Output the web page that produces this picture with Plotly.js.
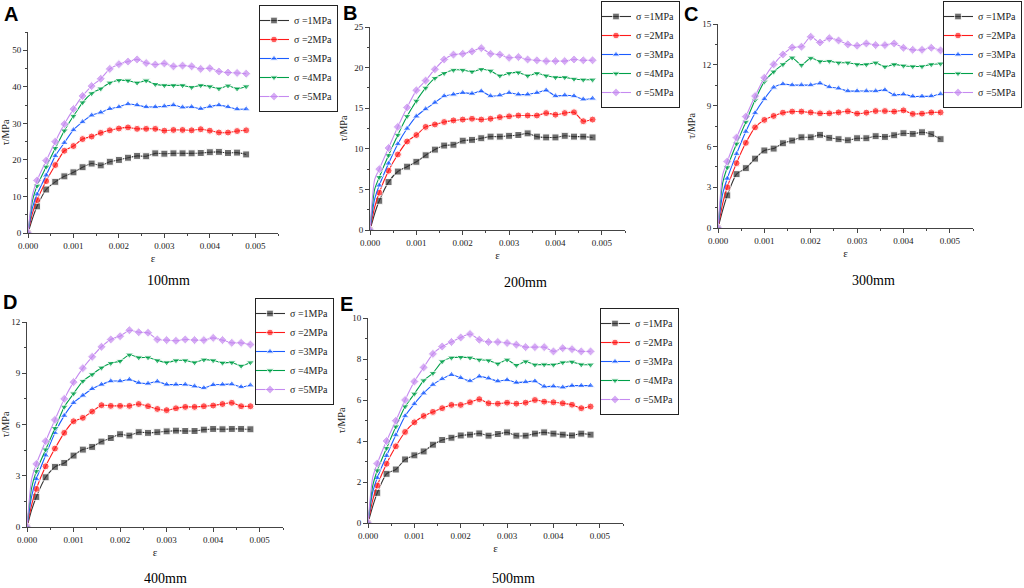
<!DOCTYPE html>
<html><head><meta charset="utf-8">
<script src="https://cdn.plot.ly/plotly-3.0.1.min.js"></script>
<style>html,body{margin:0;padding:0;background:#fff;}#chart{width:1024px;height:588px;}</style>
</head><body><div id="chart"></div>
<script>
// strain grid (ε)
const strain = [0, 0.0001, 0.0002, 0.0004, 0.0006, 0.0008, 0.0010, 0.0012, 0.0014, 0.0016, 0.0018, 0.0020,
  0.0022, 0.0024, 0.0026, 0.0028, 0.0030, 0.0032, 0.0034, 0.0036, 0.0038, 0.0040, 0.0042, 0.0044, 0.0046, 0.0048];
const seriesNames = ["σ =1MPa", "σ =2MPa", "σ =3MPa", "σ =4MPa", "σ =5MPa"];
const panelLetters = ["A", "B", "C", "D", "E"];
const panelCaptions = ["100mm", "200mm", "300mm", "400mm", "500mm"];
const yMax = [55, 25, 15, 12, 10];
const yStep = [10, 5, 3, 3, 2];

// τ (MPa), 100 mm
const tauA1 = [0, 4.0, 7.3, 11.9, 14.0, 15.5, 16.6, 18.0, 19.0, 18.5, 19.5, 20.0, 20.6, 21.1, 21.0, 21.8, 21.7, 21.8, 21.8, 21.8, 21.9, 22.1, 22.2, 21.9, 22.0, 21.5];
const tauA2 = [0, 5.5, 9.0, 14.2, 18.6, 22.5, 23.8, 25.7, 26.4, 27.4, 28.1, 28.6, 28.9, 28.5, 28.5, 28.5, 28.0, 28.2, 28.2, 28.1, 28.4, 28.0, 27.5, 27.5, 27.9, 28.1];
const tauA3 = [0, 7.0, 10.6, 15.8, 21.1, 24.7, 28.2, 30.4, 32.2, 33.0, 34.0, 34.5, 35.3, 35.0, 34.5, 34.5, 34.7, 35.0, 34.4, 34.5, 34.0, 34.6, 35.0, 34.5, 33.9, 33.9];
const tauA4 = [0, 9.0, 12.9, 18.1, 23.2, 28.0, 32.0, 35.7, 38.2, 39.5, 41.1, 41.8, 41.7, 41.1, 41.7, 40.7, 40.4, 40.4, 40.4, 39.9, 40.4, 40.1, 39.5, 40.3, 39.5, 40.1];
const tauA5 = [0, 10.5, 14.4, 19.8, 25.0, 29.8, 33.9, 37.5, 40.2, 42.2, 44.9, 46.2, 46.9, 47.5, 46.5, 46.1, 46.4, 45.6, 45.8, 45.6, 44.9, 45.1, 44.2, 43.9, 43.8, 43.6];
// 200 mm
const tauB1 = [0, 2.0, 3.6, 5.9, 7.2, 7.8, 8.4, 9.2, 9.9, 10.4, 10.5, 11.0, 11.1, 11.3, 11.5, 11.5, 11.6, 11.7, 11.9, 11.5, 11.4, 11.4, 11.6, 11.5, 11.5, 11.4];
const tauB2 = [0, 2.8, 4.6, 7.3, 9.3, 10.9, 11.7, 12.7, 13.0, 13.3, 13.5, 13.6, 13.7, 13.6, 13.7, 13.9, 14.0, 14.1, 14.1, 14.1, 14.4, 14.2, 14.4, 14.5, 13.4, 13.6];
const tauB3 = [0, 3.8, 5.5, 8.2, 10.6, 12.5, 14.0, 14.9, 15.7, 16.5, 16.7, 16.9, 16.8, 17.1, 16.5, 16.6, 16.9, 16.7, 16.7, 16.9, 17.2, 16.5, 16.6, 16.5, 16.1, 16.2];
const tauB4 = [0, 5.0, 6.5, 9.2, 11.7, 14.0, 15.9, 17.5, 18.7, 19.3, 19.7, 19.7, 19.5, 19.8, 19.6, 19.0, 19.3, 19.4, 19.0, 19.3, 19.0, 18.8, 18.8, 18.6, 18.5, 18.5];
const tauB5 = [0, 6.2, 7.5, 10.1, 12.7, 15.1, 17.2, 18.4, 19.8, 21.0, 21.6, 21.7, 22.0, 22.4, 21.7, 21.6, 21.2, 21.3, 21.0, 20.9, 20.8, 20.8, 20.8, 21.0, 20.9, 20.9];
// 300 mm
const tauC1 = [0, 1.3, 2.4, 3.96, 4.4, 5.1, 5.7, 5.84, 6.23, 6.43, 6.67, 6.67, 6.85, 6.63, 6.53, 6.45, 6.6, 6.6, 6.75, 6.7, 6.82, 6.97, 6.92, 7.04, 6.9, 6.53];
const tauC2 = [0, 1.8, 3.0, 4.77, 6.26, 7.4, 7.95, 8.24, 8.48, 8.56, 8.56, 8.5, 8.43, 8.43, 8.5, 8.58, 8.41, 8.48, 8.6, 8.6, 8.56, 8.65, 8.39, 8.41, 8.5, 8.5];
const tauC3 = [0, 2.5, 3.64, 5.45, 7.09, 8.46, 9.49, 10.34, 10.59, 10.51, 10.51, 10.51, 10.64, 10.37, 10.27, 10.07, 10.07, 10.07, 10.07, 10.15, 9.78, 9.83, 9.68, 9.68, 9.7, 9.85];
const tauC4 = [0, 3.3, 4.45, 6.19, 7.8, 9.41, 10.76, 11.49, 12.03, 12.52, 11.98, 12.5, 12.25, 12.27, 12.15, 12.15, 12.03, 12.03, 12.15, 11.86, 12.03, 11.93, 11.88, 11.88, 12.03, 12.08];
const tauC5 = [0, 3.9, 4.89, 6.65, 8.19, 9.7, 11.05, 12.03, 12.76, 13.28, 13.33, 14.06, 13.64, 13.96, 13.79, 13.5, 13.4, 13.57, 13.45, 13.45, 13.57, 13.25, 13.1, 13.1, 13.25, 13.06];
// 400 mm
const tauD1 = [0, 1.0, 1.76, 2.91, 3.52, 3.75, 4.18, 4.53, 4.69, 5.0, 5.21, 5.43, 5.35, 5.55, 5.51, 5.55, 5.6, 5.64, 5.62, 5.62, 5.7, 5.74, 5.72, 5.74, 5.74, 5.72];
const tauD2 = [0, 1.3, 2.23, 3.55, 4.59, 5.51, 6.19, 6.39, 6.76, 7.13, 7.09, 7.09, 7.09, 7.2, 7.07, 6.91, 6.84, 6.95, 7.03, 7.03, 7.07, 7.11, 7.2, 7.27, 7.07, 7.07];
const tauD3 = [0, 1.8, 2.81, 4.2, 5.51, 6.52, 7.27, 7.7, 8.09, 8.34, 8.54, 8.54, 8.63, 8.44, 8.4, 8.52, 8.34, 8.34, 8.34, 8.24, 8.14, 8.32, 8.34, 8.36, 8.2, 8.3];
const tauD4 = [0, 2.3, 3.26, 4.53, 5.78, 7.03, 7.81, 8.54, 8.93, 9.32, 9.59, 9.71, 10.08, 9.92, 9.92, 9.75, 9.63, 9.75, 9.75, 9.63, 9.79, 9.75, 9.61, 9.63, 9.43, 9.63];
const tauD5 = [0, 2.8, 3.69, 5.02, 6.27, 7.5, 8.48, 9.3, 9.96, 10.55, 10.98, 11.17, 11.52, 11.4, 11.37, 10.98, 10.94, 10.9, 10.98, 10.94, 10.94, 11.07, 10.94, 10.78, 10.78, 10.68];
// 500 mm
const tauE1 = [0, 0.8, 1.47, 2.4, 2.61, 3.1, 3.3, 3.49, 3.82, 4.05, 4.16, 4.27, 4.31, 4.37, 4.26, 4.34, 4.42, 4.26, 4.26, 4.36, 4.42, 4.36, 4.31, 4.27, 4.36, 4.31];
const tauE2 = [0, 1.1, 1.83, 2.89, 3.74, 4.44, 4.91, 5.22, 5.42, 5.6, 5.76, 5.76, 5.89, 6.04, 5.84, 5.82, 5.87, 5.82, 5.87, 6.0, 5.92, 5.89, 5.84, 5.77, 5.6, 5.68];
const tauE3 = [0, 1.5, 2.2, 3.28, 4.29, 5.22, 5.81, 6.33, 6.75, 7.03, 7.23, 7.08, 6.93, 7.15, 7.06, 6.92, 6.98, 6.85, 6.88, 6.92, 6.66, 6.67, 6.62, 6.7, 6.7, 6.7];
const tauE4 = [0, 1.8, 2.56, 3.65, 4.7, 5.68, 6.3, 6.95, 7.31, 7.88, 8.06, 8.09, 8.06, 7.96, 7.93, 7.77, 7.96, 7.7, 7.88, 7.72, 7.73, 7.72, 7.83, 7.86, 7.73, 7.72];
const tauE5 = [0, 2.2, 2.9, 4.0, 4.99, 6.0, 6.9, 7.59, 8.25, 8.61, 8.83, 9.05, 9.22, 8.94, 8.83, 8.83, 8.78, 8.7, 8.58, 8.58, 8.58, 8.37, 8.53, 8.48, 8.37, 8.37];

const panels = [
  [tauA1, tauA2, tauA3, tauA4, tauA5],
  [tauB1, tauB2, tauB3, tauB4, tauB5],
  [tauC1, tauC2, tauC3, tauC4, tauC5],
  [tauD1, tauD2, tauD3, tauD4, tauD5],
  [tauE1, tauE2, tauE3, tauE4, tauE5]
];

// ---- styling / layout ----
const W = 1024, H = 588;
const colors = ["#333333", "#ff1a1a", "#1a5cff", "#00a04a", "#c58af0"];
const symbols = ["square", "circle", "triangle-up", "triangle-down", "diamond"];
const serif = "Liberation Serif, Times New Roman, serif";
// pixel boxes [left, right, top, bottom]
const boxes = [[28, 278, 32, 233], [370, 625, 27, 230], [718, 973, 24, 228], [27, 283, 322, 527], [368, 623, 318, 523]];
const legPos = [[259, 5, "left"], [601, 1, "left"], [1022, 1, "right"], [255, 298, "left"], [600, 308, "left"]];
const letterPos = [[11, 14], [350, 13], [691, 14], [10, 302], [346, 304]];
const captionPos = [[168, 280], [525, 282], [873, 280], [165, 578], [513, 578]];

const msize = strain.map(s => (s === 0.0001 ? 0 : 7));
const data = [];
const layout = {
  width: W, height: H, margin: {l: 0, r: 0, t: 0, b: 0},
  paper_bgcolor: "#fff", plot_bgcolor: "#fff", showlegend: true,
  font: {family: serif, color: "#222", size: 9},
  annotations: []
};

panels.forEach((series, p) => {
  const sfx = p === 0 ? "" : String(p + 1);
  const legName = p === 0 ? "legend" : "legend" + (p + 1);
  series.forEach((vals, k) => {
    data.push({
      type: "scatter", mode: "lines+markers", x: strain, y: vals, name: seriesNames[k],
      xaxis: "x" + sfx, yaxis: "y" + sfx, legend: legName,
      line: {color: colors[k], width: 1.1, shape: "spline", smoothing: 0.6},
      marker: {symbol: symbols[k], size: msize, color: colors[k]}
    });
  });
  const b = boxes[p];
  const axCommon = {
    showgrid: false, zeroline: false, showline: true, linecolor: "#444", linewidth: 1,
    ticks: "outside", ticklen: 4, tickwidth: 1, tickcolor: "#444", automargin: false,
    tickfont: {family: serif, size: 9, color: "#222"}
  };
  layout["xaxis" + sfx] = Object.assign({}, axCommon, {
    domain: [b[0] / W, b[1] / W], anchor: "y" + sfx, range: [0, 0.0055],
    tick0: 0, dtick: 0.001, tickformat: ".3f",
    minor: {ticks: "outside", ticklen: 2, dtick: 0.0005, tickcolor: "#444"},
    title: {text: "ε", font: {family: serif, size: 11, color: "#222"}, standoff: 4}
  });
  layout["yaxis" + sfx] = Object.assign({}, axCommon, {
    domain: [1 - b[3] / H, 1 - b[2] / H], anchor: "x" + sfx, range: [0, yMax[p]],
    tick0: 0, dtick: yStep[p],
    minor: {ticks: "outside", ticklen: 2, dtick: yStep[p] / 2, tickcolor: "#444"},
    title: {text: "τ/MPa", font: {family: serif, size: 10, color: "#222"}, standoff: 4}
  });
  const lp = legPos[p];
  layout[legName] = {
    x: lp[0] / W, y: 1 - lp[1] / H, xref: "paper", yref: "paper",
    xanchor: lp[2], yanchor: "top",
    bgcolor: "#fff", bordercolor: "#222", borderwidth: 1, indentation: -6,
    font: {family: serif, size: 10, color: "#222"}, itemwidth: 30, tracegroupgap: 0
  };
  layout.annotations.push({
    text: "<b>" + panelLetters[p] + "</b>", x: letterPos[p][0] / W, y: 1 - letterPos[p][1] / H,
    xref: "paper", yref: "paper", showarrow: false, xanchor: "center", yanchor: "middle",
    font: {family: "Liberation Sans, Arial, sans-serif", size: 20, color: "#000"}
  });
  layout.annotations.push({
    text: panelCaptions[p], x: captionPos[p][0] / W, y: 1 - captionPos[p][1] / H,
    xref: "paper", yref: "paper", showarrow: false, xanchor: "center", yanchor: "middle",
    font: {family: serif, size: 14, color: "#000"}
  });
});

Plotly.newPlot("chart", data, layout, {displayModeBar: false, staticPlot: true});
</script></body></html>
